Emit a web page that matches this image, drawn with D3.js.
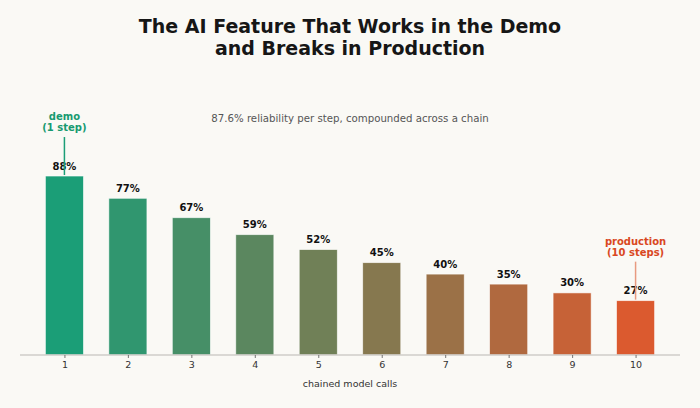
<!DOCTYPE html>
<html>
<head>
<meta charset="utf-8">
<script src="https://cdn.jsdelivr.net/npm/d3@7"></script>
<style>
  body { margin: 0; background: #faf9f5; }
  svg { display: block; font-family: "DejaVu Sans", sans-serif; }
</style>
</head>
<body>
<div id="chart"></div>
<script>
// chain length vs. end-to-end success
const steps = [1, 2, 3, 4, 5, 6, 7, 8, 9, 10]
const successPct = [87.6, 76.7, 67.2, 58.9, 51.6, 45.2, 39.6, 34.7, 30.4, 26.6]
const valueLabels = ["88%", "77%", "67%", "59%", "52%", "45%", "40%", "35%", "30%", "27%"]
const titleLines = ["The AI Feature That Works in the Demo", "and Breaks in Production"]
const subtitle = "87.6% reliability per step, compounded across a chain"
const xLabel = "chained model calls"
const callouts = [
  { step: 1, lines: ["demo", "(1 step)"] },
  { step: 10, lines: ["production", "(10 steps)"] }
]

function draw() {
  const width = 700
  const height = 408
  const baseY = 355

  const svg = d3.select("#chart").append("svg")
    .attr("width", width)
    .attr("height", height)

  svg.append("rect").attr("width", width).attr("height", height).attr("fill", "#faf9f5")

  // scales
  const x = d3.scaleLinear().domain([0.3, 10.7]).range([20, 680])
  const y = d3.scaleLinear().domain([0, 100]).range([baseY, baseY - 204.3])
  const barW = (x(2) - x(1)) * 0.6
  const color = d3.scaleLinear()
    .domain([1, 10])
    .range(["#1b9e77", "#db5a2f"])
    .interpolate(d3.interpolateRgb)

  // title
  svg.append("g").selectAll("text")
    .data(titleLines)
    .join("text")
    .attr("x", width / 2)
    .attr("y", (d, i) => 33 + i * 22)
    .attr("text-anchor", "middle")
    .attr("font-size", 19)
    .attr("font-weight", "bold")
    .attr("fill", "#161616")
    .text(d => d)

  svg.append("text")
    .attr("x", width / 2)
    .attr("y", 122)
    .attr("text-anchor", "middle")
    .attr("font-size", 10.2)
    .attr("fill", "#555")
    .text(subtitle)

  // bars
  svg.append("g").selectAll("rect")
    .data(steps)
    .join("rect")
    .attr("x", d => x(d) - barW / 2)
    .attr("y", (d, i) => y(successPct[i]))
    .attr("width", barW)
    .attr("height", (d, i) => baseY - y(successPct[i]))
    .attr("fill", d => color(d))
    .attr("stroke", "#ffffff")
    .attr("stroke-opacity", 0.7)
    .attr("stroke-width", 0.8)

  // value labels
  svg.append("g").selectAll("text")
    .data(steps)
    .join("text")
    .attr("x", d => x(d))
    .attr("y", (d, i) => y(successPct[i]) - 6.5)
    .attr("text-anchor", "middle")
    .attr("font-size", 10)
    .attr("font-weight", "bold")
    .attr("fill", "#111")
    .text((d, i) => valueLabels[i])

  // x axis
  const xAxis = d3.axisBottom(x)
    .tickValues(steps)
    .tickSize(3)
    .tickPadding(3)
    .tickFormat(d3.format("d"))

  const axisG = svg.append("g")
    .attr("transform", `translate(0,${baseY})`)
    .call(xAxis)
  axisG.select(".domain").attr("stroke", "#cfcdc8").attr("stroke-width", 1.6).attr("d", `M20,0H680`)
  axisG.selectAll(".tick line").attr("stroke", "#555").attr("stroke-width", 0.8)
  axisG.selectAll(".tick text").attr("font-size", 9.5).attr("fill", "#333").attr("font-family", "DejaVu Sans")

  svg.append("text")
    .attr("x", x(5.5))
    .attr("y", 387)
    .attr("text-anchor", "middle")
    .attr("font-size", 9.5)
    .attr("fill", "#333")
    .text(xLabel)

  // callouts
  callouts.forEach(c => {
    const i = steps.indexOf(c.step)
    const top = y(successPct[i])
    const col = c.step === 1 ? "#179a70" : "#d9481f"
    const lineCol = c.step === 1 ? "#1b9e77" : "#e89a80"
    svg.append("line")
      .attr("x1", x(c.step)).attr("x2", x(c.step))
      .attr("y1", top - 39).attr("y2", top - 1)
      .attr("stroke", lineCol)
      .attr("stroke-width", 1.5)
    svg.append("g").selectAll("text")
      .data(c.lines)
      .join("text")
      .attr("x", x(c.step))
      .attr("y", (d, k) => top - 56 + k * 11)
      .attr("text-anchor", "middle")
      .attr("font-size", 10)
      .attr("font-weight", "bold")
      .attr("fill", col)
      .text(d => d)
  })
}
draw()
</script>
</body>
</html>
